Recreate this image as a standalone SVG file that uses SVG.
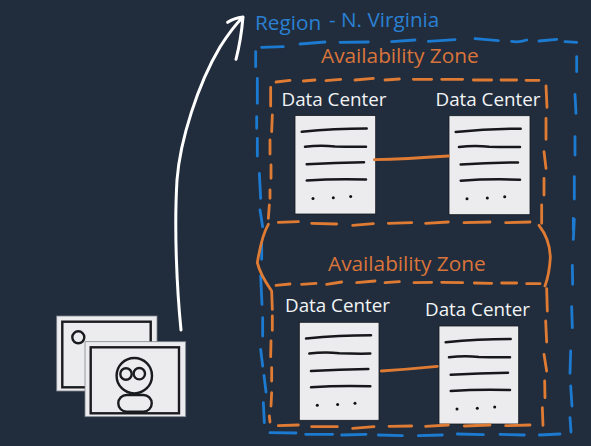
<svg xmlns="http://www.w3.org/2000/svg" xmlns:xlink="http://www.w3.org/1999/xlink" width="591" height="446" viewBox="0 0 591 446">
<style>
text{font-family:"Open Sans","Noto Sans","Liberation Sans",sans-serif}
.dc{font-size:18.800px;fill:#f2f4f6}
.az{font-size:20.800px;fill:#d9743a}
.rg{fill:#2a80d2}
.b,.o,.c{fill:none;stroke-linecap:round;stroke-linejoin:round}
.b path,.o path{vector-effect:non-scaling-stroke}
.b{stroke:#1c7ad0;stroke-width:2.800}
.o{stroke:#e07b33;stroke-width:2.800}
.page{fill:#ececee;stroke:#15191f;stroke-width:.8}
.ink{fill:none;stroke:#17181b;stroke-width:2.500;stroke-linecap:round}
.card{fill:#ececee;stroke:#7d838b;stroke-width:.8}
.fr{fill:none;stroke:#1a1b1e;stroke-width:2.400}
.w{fill:none;stroke:#fff;stroke-width:3;stroke-linecap:round;stroke-linejoin:round}
</style>
<defs>
<g id="doc">
<path class="ink" d="M6.7 16.3Q40 13 71.7 13M10 31.3Q25 29.5 40 31Q55 31.5 71 31.3M11.7 48.7Q40 47 69 46.7M11.7 65Q40 63 71 64"/>
<circle cx="18" cy="83" r="1.500" fill="#111"/><circle cx="38.3" cy="82.3" r="1.500" fill="#111"/><circle cx="55.7" cy="81" r="1.500" fill="#111"/>
</g>
</defs>
<rect id="background" width="591" height="446" fill="#212d3d"/>

<g id="region">
<text class="rg" x="255" y="30" font-size="20.800">Region</text>
<text class="rg" x="329" y="26.500" font-size="20.700">- N. Virginia</text>
<g class="b" transform="translate(240 0) scale(.33333)">
<path d="M65 142L130 140M180 132L255 126M300 127L385 126M455 125L525 120M565 124L645 119M705 116L775 122M815 124Q835 128 860 120M897 123L950 118M975 125L1010 127"/>
<path d="M47 155L47 200M52 235L52 310M50 350L50 385M52 415L52 468M58 520L62 595M60 630L68 680"/>
<path d="M1010 170L1010 215M1005 283L1008 340M1005 410L1005 465M1003 530L1003 597M1000 655L1000 690"/>
</g>
<g class="b" transform="translate(240 216) scale(.33333)">
<path d="M65 80L65 130M62 180L66 265M68 305L68 360M62 400L68 450M72 478L78 528M70 560L73 620"/>
<path d="M1003 10L1000 70M997 148L998 205M995 272L997 335M992 405L990 472M992 510L996 570M990 605L993 648"/>
<path d="M90 650L168 651M197 655L278 655M305 657L378 655M415 657L487 659M535 659L607 657M652 654L730 656M780 655L853 657M898 657L960 654"/>
</g>
</g>

<g id="zone-1">
<text class="az" x="321" y="63">Availability Zone</text>
<g class="o" transform="translate(240 0) scale(.33333)">
<path d="M108 246L150 241M190 243L225 240M258 242L302 238M345 240L400 235M435 240L478 237M520 238L575 238M605 238L668 238M700 240L755 240M783 240L830 240M858 241L897 241"/>
<path d="M918 258L921 322M918 355L918 418M912 455L918 505M912 535L912 585M905 615L905 670"/>
<path d="M92 262L92 318M97 345L95 395M90 420L90 462M93 495L93 535M90 570L90 595M88 615L85 655"/>
<path d="M115 667L175 665M215 670L290 672M338 676L400 671M445 670L515 668M557 670L625 666M672 668L750 666M797 668L870 666"/>
</g>
</g>

<g id="zone-2">
<text class="az" x="328" y="271">Availability Zone</text>
<g class="o" transform="translate(240 216) scale(.33333)">
<path d="M85 25Q65 60 52 140Q60 175 95 225L97 280M897 28Q930 70 931 125Q928 175 915 210"/>
<path d="M108 208L150 204M185 205L228 202M260 205L305 198M350 200L405 195M435 200L478 197M522 200L575 199M605 199L668 200M703 201L755 202M785 201L830 201M860 203L900 203"/>
<path d="M920 218L922 285M917 315L920 378M912 415L920 465M914 495L915 545M907 575L909 628"/>
<path d="M97 300L97 343M93 375L92 422M95 455L95 495M95 530L93 570M88 600L90 618"/>
</g>
</g>

<g id="dc-1">
<text class="dc" x="281.500" y="106">Data Center</text>
<rect class="page" x="295" y="115.500" width="80.700" height="98.500"/>
<use xlink:href="#doc" href="#doc" x="295" y="115.500"/>
</g>
<g id="dc-2">
<text class="dc" x="435.500" y="106">Data Center</text>
<rect class="page" x="449" y="115.700" width="81" height="99"/>
<use xlink:href="#doc" href="#doc" x="449" y="115.700"/>
</g>
<g id="dc-3">
<text class="dc" x="285" y="312">Data Center</text>
<rect class="page" x="299.300" y="322.300" width="79.700" height="98"/>
<use xlink:href="#doc" href="#doc" x="299.300" y="322.300"/>
</g>
<g id="dc-4">
<text class="dc" x="425" y="316">Data Center</text>
<rect class="page" x="439" y="326" width="79.700" height="98"/>
<use xlink:href="#doc" href="#doc" x="439" y="326"/>
</g>

<g id="zone-2-bottom" class="o" transform="translate(240 216) scale(.33333)">
<path d="M115 629L175 627M215 632L292 632M338 637L402 632M447 631L515 630M557 631L625 627M673 630L750 627M797 629L870 627"/>
</g>

<g id="connectors">
<path class="o" d="M374.300 159.700Q405 159 448.500 156"/>
<path class="o" d="M381.300 371Q410 369 437.300 366.300"/>
<path class="w" d="M181 330C177 290 174 230 177 180C180 140 198 84 220 47Q232 28 243 17M227.700 22.300Q234 18 243 17Q241 40 236 59.300"/>
</g>

<g id="user-back">
<rect class="card" x="56.700" y="316" width="100.300" height="75"/>
<rect class="fr" x="62.300" y="321.700" width="88.400" height="65.600"/>
<circle class="fr" cx="78.300" cy="337.300" r="6"/>
</g>
<g id="user-front">
<rect class="card" x="85" y="341.700" width="100.700" height="75"/>
<rect class="fr" x="90.700" y="347.300" width="88.300" height="66"/>
<circle class="fr" cx="134.300" cy="375.700" r="17.700"/>
<circle class="fr" cx="126" cy="374" r="5.700"/>
<circle class="fr" cx="139.300" cy="373.700" r="5.700"/>
<rect class="fr" x="118.300" y="395" width="33.400" height="16.700" rx="8.300"/>
</g>
</svg>
